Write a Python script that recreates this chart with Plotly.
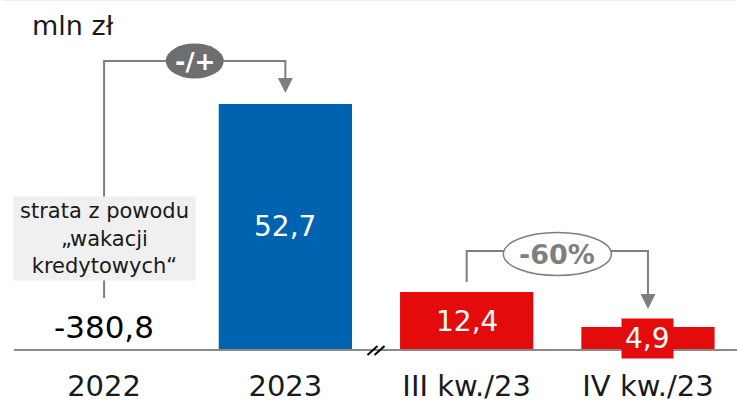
import plotly.graph_objects as go

# --- data ---------------------------------------------------------------
categories = ["2022", "2023", "III kw./23", "IV kw./23"]
values = [-380.8, 52.7, 12.4, 4.9]
value_labels = ["-380,8", "52,7", "12,4", "4,9"]
bar_colors = [None, "#0063af", "#e30b0b", "#e30b0b"]
unit_label = "mln zł"
note_lines = ["strata z powodu", "„wakacji", "kredytowych“"]
change_yoy = "-/+"
change_qoq = "-60%"

FONT = "DejaVu Sans"
GREY = "#7f7f7f"
TXT = "#1a1a1a"

xs = list(range(len(categories)))
px_per_unit = 4.67            # vertical scale in pixels per mln zł
W, H, B = 737, 404, 40
plot_h = H - B
base_px = 350                 # baseline position from top
y_top = base_px / px_per_unit
y_bot = -(plot_h - base_px) / px_per_unit
x_lo, x_hi = -0.574, 3.491
x_per_px = (x_hi - x_lo) / W


def dy(px):
    return px / px_per_unit


def dx(px):
    return px * x_per_px


fig = go.Figure()

# bars (2022 is off the scale, shown by its label only)
bar_idx = [i for i, v in enumerate(values) if v > 0]
fig.add_trace(go.Bar(
    x=[xs[i] for i in bar_idx],
    y=[values[i] for i in bar_idx],
    marker=dict(color=[bar_colors[i] for i in bar_idx], line_width=0),
    width=0.735,
    hoverinfo="skip",
))

shapes = []
annotations = []

# baseline
shapes.append(dict(type="line", xref="paper", yref="y", x0=14 / W, x1=1, y0=0, y1=0,
                   line=dict(color="#8a8a8a", width=2)))
# faint frame line on top
shapes.append(dict(type="line", xref="paper", yref="paper", x0=2 / W, x1=1, y0=1, y1=1,
                   line=dict(color="#eeeeee", width=2)))

# axis break between yearly and quarterly bars
xb = (xs[1] + xs[2]) / 2
for off in (-dx(3.5), dx(3.5)):
    shapes.append(dict(type="line", xref="x", yref="y",
                       x0=xb + off - dx(5), y0=-dy(5), x1=xb + off + dx(5), y1=dy(4),
                       line=dict(color="#000000", width=2)))

# value labels
for i in bar_idx:
    annotations.append(dict(
        x=xs[i], y=values[i] / 2, xref="x", yref="y", text=value_labels[i],
        showarrow=False, font=dict(family=FONT, size=28, color="white"),
        bgcolor=bar_colors[i] if values[i] < 8 else None, borderpad=3,
    ))
annotations.append(dict(
    x=xs[0], y=dy(23), xref="x", yref="y", text=value_labels[0], showarrow=False,
    font=dict(family=FONT, size=31, color="#000000"),
))

# connector 2022 -> 2023
y_link1 = dy(base_px - 61)
shapes.append(dict(type="path", xref="x", yref="y",
                   path=f"M {xs[0]},{dy(52)} L {xs[0]},{y_link1} L {xs[1]},{y_link1} "
                        f"L {xs[1]},{values[1] + dy(25)}",
                   line=dict(color=GREY, width=2)))
tip1 = values[1] + dy(11)
shapes.append(dict(type="path", xref="x", yref="y",
                   path=f"M {xs[1] - dx(7.5)},{tip1 + dy(15)} L {xs[1] + dx(7.5)},{tip1 + dy(15)} "
                        f"L {xs[1]},{tip1} Z",
                   fillcolor=GREY, line=dict(width=0)))
xm1 = (xs[0] + xs[1]) / 2
shapes.append(dict(type="circle", xref="x", yref="y",
                   x0=xm1 - dx(29), x1=xm1 + dx(29), y0=y_link1 - dy(17.5), y1=y_link1 + dy(17.5),
                   fillcolor="#6d6e70", line=dict(width=0)))
annotations.append(dict(x=xm1, y=y_link1, xref="x", yref="y", text=f"<b>{change_yoy}</b>",
                        showarrow=False, font=dict(family=FONT, size=25, color="white")))

# note box over the 2022 connector
annotations.append(dict(
    x=(14 + 195) / 2 / W, xref="paper", xanchor="center",
    y=dy(base_px - 238.5), yref="y", yanchor="middle",
    text="<br>".join(note_lines), showarrow=False, align="center",
    font=dict(family=FONT, size=21, color=TXT),
    bgcolor="#f0f0f0", width=177, height=79, borderpad=2,
))

# connector III kw. -> IV kw.
y_link2 = dy(base_px - 251)
shapes.append(dict(type="path", xref="x", yref="y",
                   path=f"M {xs[2]},{values[2] + dy(10)} L {xs[2]},{y_link2} L {xs[3]},{y_link2} "
                        f"L {xs[3]},{values[3] + dy(32)}",
                   line=dict(color=GREY, width=2)))
tip2 = values[3] + dy(18)
shapes.append(dict(type="path", xref="x", yref="y",
                   path=f"M {xs[3] - dx(7.5)},{tip2 + dy(15)} L {xs[3] + dx(7.5)},{tip2 + dy(15)} "
                        f"L {xs[3]},{tip2} Z",
                   fillcolor=GREY, line=dict(width=0)))
xm2 = (xs[2] + xs[3]) / 2
yc2 = y_link2 - dy(3)
shapes.append(dict(type="circle", xref="x", yref="y",
                   x0=xm2 - dx(54), x1=xm2 + dx(54), y0=yc2 - dy(21.5), y1=yc2 + dy(21.5),
                   fillcolor="white", line=dict(color=GREY, width=1.5)))
annotations.append(dict(x=xm2, y=yc2, xref="x", yref="y", text=f"<b>{change_qoq}</b>",
                        showarrow=False, font=dict(family=FONT, size=27, color=GREY)))

# unit label
annotations.append(dict(x=30 / W, y=1 - 26 / plot_h, xref="paper", yref="paper",
                        xanchor="left", yanchor="middle", text=unit_label, showarrow=False,
                        font=dict(family=FONT, size=27, color=TXT)))

fig.update_layout(
    width=W, height=H,
    margin=dict(l=0, r=0, t=0, b=B),
    paper_bgcolor="white", plot_bgcolor="white",
    showlegend=False,
    shapes=shapes, annotations=annotations,
    xaxis=dict(range=[x_lo, x_hi], tickvals=xs, ticktext=categories,
               showgrid=False, zeroline=False, showline=False, ticks="",
               tickfont=dict(family=FONT, size=29, color=TXT), ticklabelstandoff=2),
    yaxis=dict(range=[y_bot, y_top], visible=False, showgrid=False, zeroline=False),
)

fig.write_html("out.html")
